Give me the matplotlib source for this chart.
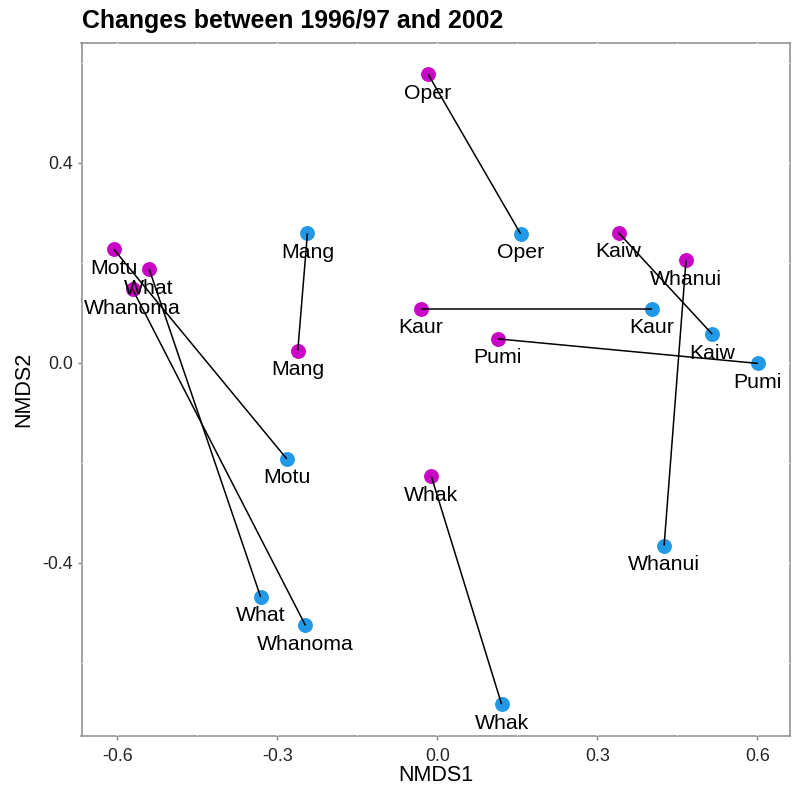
import matplotlib
matplotlib.use("Agg")
import matplotlib.pyplot as plt
from matplotlib.ticker import MultipleLocator

plt.rcParams['font.family'] = ['Liberation Sans', 'DejaVu Sans']

sites = ["Oper", "Mang", "Motu", "What", "Whanoma", "Kaur", "Kaiw", "Whanui", "Pumi", "Whak"]
x_9697 = [-0.0174, -0.2616, -0.6066, -0.5401, -0.5711, -0.0310, 0.3396, 0.4661, 0.1134, -0.0112]
y_9697 = [0.5776, 0.0240, 0.2275, 0.1876, 0.1471, 0.1086, 0.2603, 0.2050, 0.0479, -0.2275]
x_2002 = [0.1559, -0.2435, -0.2822, -0.3313, -0.2472, 0.4018, 0.5152, 0.4250, 0.6006, 0.1204]
y_2002 = [0.2583, 0.2595, -0.1922, -0.4683, -0.5255, 0.1086, 0.0573, -0.3659, -0.0012, -0.6832]

col_9697 = "#C905C6"
col_2002 = "#2299E6"
frame_col = "#8a8a8a"

fig = plt.figure(figsize=(7.96, 7.85), dpi=100)
ax = fig.add_axes([81.5/796, 1-735.7/785, (790-81.5)/796, (735.7-42.7)/785])

ax.scatter(x_9697, y_9697, s=115, color=col_9697, zorder=3, linewidths=0)
ax.scatter(x_2002, y_2002, s=115, color=col_2002, zorder=3, linewidths=0)
for xa, ya, xb, yb in zip(x_9697, y_9697, x_2002, y_2002):
    ax.plot([xa, xb], [ya, yb], color="black", lw=1.1, zorder=4, solid_capstyle='butt')

for xs, ys in ((x_9697, y_9697), (x_2002, y_2002)):
    for name, xv, yv in zip(sites, xs, ys):
        ax.annotate(name, (xv, yv), xytext=(0, -6.8), textcoords='offset points',
                    ha='center', va='top', fontsize=15.3, color='black', zorder=5)

ax.margins(0.05)

ax.xaxis.set_minor_locator(MultipleLocator(0.15))
ax.yaxis.set_minor_locator(MultipleLocator(0.2))
ax.set_xticks([-0.6, -0.3, 0.0, 0.3, 0.6])
ax.set_xticklabels(["-0.6", "-0.3", "0.0", "0.3", "0.6"])
ax.set_yticks([-0.4, 0.0, 0.4])
ax.set_yticklabels(["-0.4", "0.0", "0.4"])

ax.set_axisbelow(True)
ax.grid(which='major', color='white', lw=1.0)
ax.grid(which='minor', color='white', lw=0.6)
for sp in ax.spines.values():
    sp.set_color(frame_col)
    sp.set_linewidth(1.1)
    sp.set_zorder(0.3)

ax.tick_params(which='major', length=3.2, width=1.0, color=frame_col,
               labelsize=12.9, labelcolor='#262626')
ax.tick_params(axis='x', which='major', pad=5.5)
ax.tick_params(axis='y', which='major', pad=3)
ax.tick_params(which='minor', length=0)

ax.set_xlabel("NMDS1", fontsize=15.5, color='black', labelpad=0.5)
ax.set_ylabel("NMDS2", fontsize=15.5, color='black', labelpad=6)

fig.text(82.5/796, 1-28/785, "Changes between 1996/97 and 2002", fontsize=17.9,
         fontweight='bold', ha='left', va='baseline', color='black')

fig.savefig("out.png", dpi=100)
